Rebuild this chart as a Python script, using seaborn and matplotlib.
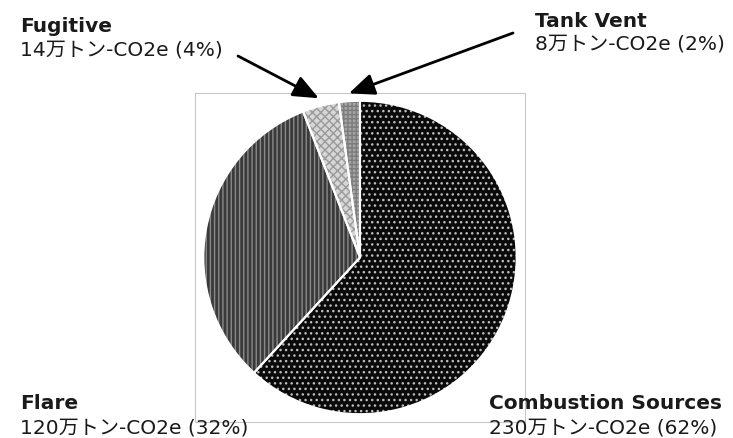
import numpy as np
import seaborn as sns
import matplotlib.pyplot as plt

# 排出源別の排出量（万トン-CO2e）
sources = ['Combustion Sources', 'Flare', 'Fugitive', 'Tank Vent']
emissions = [230, 120, 14, 8]
shares = [62, 32, 4, 2]
unit = '万トン-CO2e'

sns.set_theme(style='white')
plt.rcParams['font.family'] = ['DejaVu Sans', 'Noto Sans CJK JP']
plt.rcParams['hatch.linewidth'] = 1.0

face_colors = ['#0a0a0a', '#3a3a3a', '#d6d6d6', '#a4a4a4']
hatch_colors = ['#bdbdbd', '#8a8a8a', '#9a9a9a', '#7c7c7c']
hatches = ['...', '||||', 'xxxx', '++++']

fig = plt.figure(figsize=(7.33, 4.38), dpi=100)
W, H = 733, 438
ax = fig.add_axes([195 / W, (H - 422) / H, 330 / W, 329 / H])

# 塗り
wedges, _ = ax.pie(emissions, startangle=90, counterclock=False,
                   colors=face_colors, wedgeprops=dict(linewidth=0))
# ハッチ
hw, _ = ax.pie(emissions, startangle=90, counterclock=False,
               wedgeprops=dict(fill=False, linewidth=0))
for w, h, c in zip(hw, hatches, hatch_colors):
    w.set_hatch(h)
    w.set_edgecolor(c)
# 白い境界線
ax.pie(emissions, startangle=90, counterclock=False,
       wedgeprops=dict(fill=False, edgecolor='white', linewidth=1.5))

ax.set_xlim(-1.05, 1.05)
ax.set_ylim(-1.05, 1.05)
ax.set_aspect('equal')
ax.set_xticks([])
ax.set_yticks([])
ax.set_frame_on(True)
for s in ax.spines.values():
    s.set_visible(True)
    s.set_color('#c8c8c8')
    s.set_linewidth(0.8)

# ラベル位置（図のピクセル、ベースライン）
label_pos = {
    'Combustion Sources': (489, 409, 433),
    'Flare': (20, 409, 433),
    'Fugitive': (20, 32, 55),
    'Tank Vent': (535, 27, 49),
}
for name, val, pct in zip(sources, emissions, shares):
    x, y1, y2 = label_pos[name]
    fig.text(x / W, 1 - y1 / H, name, fontsize=14.5, fontweight='bold',
             va='baseline', ha='left', color='#1a1a1a')
    fig.text(x / W, 1 - y2 / H, f'{val}{unit} ({pct}%)', fontsize=14.5,
             va='baseline', ha='left', color='#1a1a1a')

# 小さい扇形への矢印
arrow_start = {'Fugitive': (238, 56), 'Tank Vent': (513, 33)}
for w, name in zip(wedges, sources):
    if name not in arrow_start:
        continue
    mid = np.deg2rad((w.theta1 + w.theta2) / 2)
    tip = (1.05 * np.cos(mid), 1.05 * np.sin(mid))
    sx, sy = arrow_start[name]
    ax.annotate('', xy=tip, xycoords='data',
                xytext=(sx, H - sy), textcoords='figure pixels',
                arrowprops=dict(arrowstyle='-|>,head_length=1.3,head_width=0.55',
                                color='black', linewidth=2, shrinkA=0, shrinkB=0),
                annotation_clip=False)

fig.savefig('out.png', dpi=100)
